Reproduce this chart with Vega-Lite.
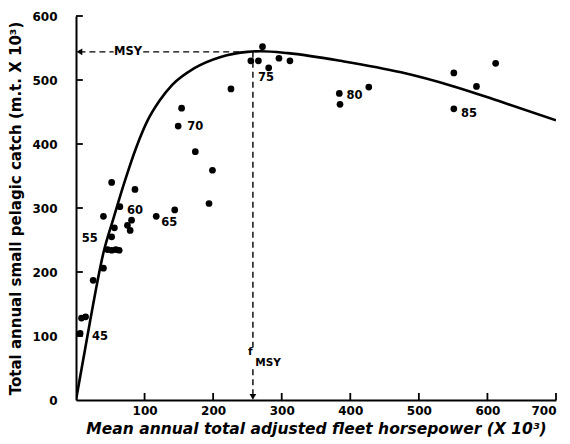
{
  "$schema": "https://vega.github.io/schema/vega-lite/v6.json",
  "width": 480,
  "height": 384,
  "autosize": "none",
  "padding": {"left": 76, "top": 16, "right": 14, "bottom": 44},
  "background": "white",
  "config": {"view": {"stroke": null}, "font": "DejaVu Sans"},
  "datasets": {
    "pts": [
      {"hp": 6, "catch": 104}, {"hp": 8, "catch": 128}, {"hp": 14, "catch": 130},
      {"hp": 25, "catch": 187}, {"hp": 40, "catch": 206},
      {"hp": 46, "catch": 235}, {"hp": 52, "catch": 234}, {"hp": 58, "catch": 235}, {"hp": 63, "catch": 234},
      {"hp": 52, "catch": 255}, {"hp": 56, "catch": 269}, {"hp": 40, "catch": 287}, {"hp": 64, "catch": 302},
      {"hp": 52, "catch": 340}, {"hp": 75, "catch": 273}, {"hp": 79, "catch": 265}, {"hp": 81, "catch": 281},
      {"hp": 86, "catch": 329}, {"hp": 117, "catch": 287}, {"hp": 144, "catch": 297},
      {"hp": 149, "catch": 428}, {"hp": 154, "catch": 456}, {"hp": 174, "catch": 388},
      {"hp": 194, "catch": 307}, {"hp": 199, "catch": 359}, {"hp": 226, "catch": 486},
      {"hp": 255, "catch": 530}, {"hp": 266, "catch": 530}, {"hp": 272, "catch": 552},
      {"hp": 281, "catch": 519}, {"hp": 296, "catch": 534}, {"hp": 312, "catch": 530},
      {"hp": 384, "catch": 479}, {"hp": 385, "catch": 462}, {"hp": 427, "catch": 489},
      {"hp": 551, "catch": 511}, {"hp": 584, "catch": 490}, {"hp": 612, "catch": 526}, {"hp": 551, "catch": 455}
    ],
    "curve": [
      {"hp": 0, "catch": 0}, {"hp": 20, "catch": 120}, {"hp": 40, "catch": 230}, {"hp": 55, "catch": 285},
      {"hp": 70, "catch": 338}, {"hp": 88, "catch": 395}, {"hp": 105, "catch": 438}, {"hp": 122, "catch": 468},
      {"hp": 140, "catch": 492}, {"hp": 172, "catch": 518}, {"hp": 211, "catch": 536}, {"hp": 250, "catch": 544},
      {"hp": 270, "catch": 545}, {"hp": 309, "catch": 542}, {"hp": 391, "catch": 529}, {"hp": 474, "catch": 512},
      {"hp": 551, "catch": 490}, {"hp": 620, "catch": 466}, {"hp": 700, "catch": 437}
    ],
    "dash": [
      {"x1": 5, "x2": 55, "y1": 544, "y2": 544},
      {"x1": 98, "x2": 258, "y1": 544, "y2": 544},
      {"x1": 258, "x2": 258, "y1": 544, "y2": 82},
      {"x1": 258, "x2": 258, "y1": 48, "y2": 6}
    ],
    "arrows": [
      {"hp": 5, "catch": 544, "shape": "triangle-left"},
      {"hp": 258, "catch": 5, "shape": "triangle-down"}
    ],
    "xticks": [
      {"hp": 100, "y1": 0, "y2": 11}, {"hp": 200, "y1": 0, "y2": 11}, {"hp": 300, "y1": 0, "y2": 11}, {"hp": 400, "y1": 0, "y2": 11},
      {"hp": 500, "y1": 0, "y2": 11}, {"hp": 600, "y1": 0, "y2": 11}, {"hp": 700, "y1": 0, "y2": 11}
    ],
    "yticks": [
      {"catch": 100, "x1": 0, "x2": 10}, {"catch": 200, "x1": 0, "x2": 10}, {"catch": 300, "x1": 0, "x2": 10},
      {"catch": 400, "x1": 0, "x2": 10}, {"catch": 500, "x1": 0, "x2": 10}, {"catch": 600, "x1": 0, "x2": 10}
    ],
    "labels": [
      {"hp": 35, "catch": 99, "t": "45"},
      {"hp": 20, "catch": 251, "t": "55"},
      {"hp": 86, "catch": 295, "t": "60"},
      {"hp": 136, "catch": 276, "t": "65"},
      {"hp": 174, "catch": 427, "t": "70"},
      {"hp": 277, "catch": 503, "t": "75"},
      {"hp": 406, "catch": 475, "t": "80"},
      {"hp": 573, "catch": 447, "t": "85"},
      {"hp": 76, "catch": 544, "t": "MSY"}
    ],
    "fmsy": [
      {"hp": 254, "catch": 75, "t": "f"},
      {"hp": 280, "catch": 58, "t": "MSY"}
    ]
  },
  "layer": [
    {
      "data": {"name": "curve"},
      "mark": {"type": "line", "interpolate": "monotone", "color": "black", "strokeWidth": 2.6, "clip": true},
      "encoding": {
        "x": {"field": "hp", "type": "quantitative", "scale": {"domain": [0, 700], "nice": false},
          "axis": {"values": [100, 200, 300, 400, 500, 600, 700], "grid": false, "ticks": false,
            "domainColor": "black", "domainWidth": 2, "labelFont": "DejaVu Sans", "labelFontWeight": "bold", "labelFontSize": 12, "labelColor": "black", "labelPadding": 5,
            "title": "Mean annual total adjusted fleet horsepower (X 10³)", "titleFont": "DejaVu Sans", "titleFontStyle": "italic", "titleFontWeight": "bold", "titleFontSize": 15.5, "titleColor": "black", "titlePadding": 5}},
        "y": {"field": "catch", "type": "quantitative", "scale": {"domain": [0, 600], "nice": false},
          "axis": {"values": [0, 100, 200, 300, 400, 500, 600], "grid": false, "ticks": false,
            "domainColor": "black", "domainWidth": 2, "labelFont": "DejaVu Sans", "labelFontWeight": "bold", "labelFontSize": 12, "labelColor": "black", "labelPadding": 19,
            "title": "Total annual small pelagic catch (m.t. X 10³)", "titleFont": "DejaVu Sans", "titleFontWeight": "bold", "titleFontSize": 15, "titleColor": "black", "titlePadding": 8}}
      }
    },
    {
      "data": {"name": "pts"},
      "mark": {"type": "point", "filled": true, "color": "black", "size": 45, "opacity": 1},
      "encoding": {"x": {"field": "hp", "type": "quantitative"}, "y": {"field": "catch", "type": "quantitative"}}
    },
    {
      "data": {"name": "xticks"},
      "mark": {"type": "rule", "color": "black", "strokeWidth": 1.8},
      "encoding": {"x": {"field": "hp", "type": "quantitative"}, "y": {"field": "y1", "type": "quantitative"}, "y2": {"field": "y2"}}
    },
    {
      "data": {"name": "yticks"},
      "mark": {"type": "rule", "color": "black", "strokeWidth": 1.8},
      "encoding": {"y": {"field": "catch", "type": "quantitative"}, "x": {"field": "x1", "type": "quantitative"}, "x2": {"field": "x2"}}
    },
    {
      "data": {"name": "dash"},
      "mark": {"type": "rule", "color": "black", "strokeWidth": 1.4, "strokeDash": [6, 4]},
      "encoding": {"x": {"field": "x1", "type": "quantitative"}, "x2": {"field": "x2"}, "y": {"field": "y1", "type": "quantitative"}, "y2": {"field": "y2"}}
    },
    {
      "data": {"name": "arrows"},
      "mark": {"type": "point", "filled": true, "color": "black", "size": 45, "opacity": 1},
      "encoding": {"x": {"field": "hp", "type": "quantitative"}, "y": {"field": "catch", "type": "quantitative"}, "shape": {"field": "shape", "type": "nominal", "scale": null}}
    },
    {
      "data": {"name": "labels"},
      "mark": {"type": "text", "font": "DejaVu Sans", "fontSize": 11.5, "fontWeight": "bold", "color": "black"},
      "encoding": {"x": {"field": "hp", "type": "quantitative"}, "y": {"field": "catch", "type": "quantitative"}, "text": {"field": "t"}}
    },
    {
      "data": {"name": "fmsy"},
      "mark": {"type": "text", "font": "DejaVu Sans", "fontSize": 10.5, "fontWeight": "bold", "color": "black"},
      "encoding": {"x": {"field": "hp", "type": "quantitative"}, "y": {"field": "catch", "type": "quantitative"}, "text": {"field": "t"}}
    }
  ]
}
